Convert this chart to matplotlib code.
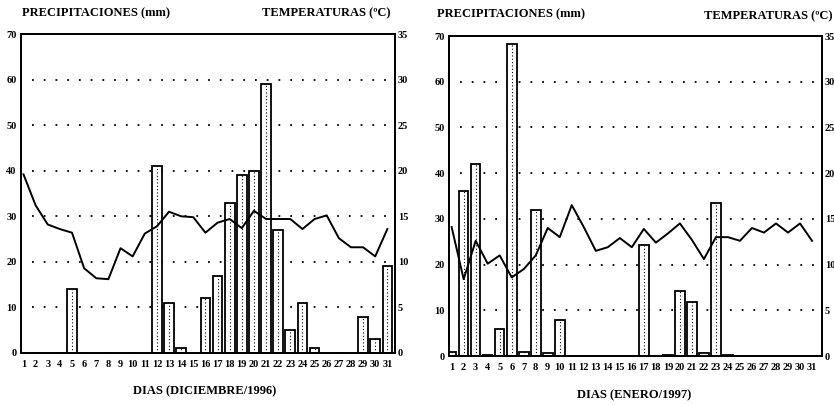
import matplotlib
matplotlib.use("Agg")
import matplotlib.pyplot as plt
import numpy as np

days = list(range(1, 32))

precip_dec = [0, 0, 0, 0, 14, 0, 0, 0, 0, 0, 0, 41, 11, 1, 0, 12, 17, 33, 39, 40,
              59, 27, 5, 11, 1, 0, 0, 0, 8, 3, 19]
temp_dec = [19.6, 16.2, 14.1, 13.6, 13.2, 9.3, 8.2, 8.1, 11.5, 10.6, 13.1, 13.9, 15.5,
            15.0, 14.9, 13.2, 14.3, 14.7, 13.7, 15.6, 14.7, 14.7, 14.7, 13.6, 14.7,
            15.1, 12.6, 11.6, 11.6, 10.6, 13.6]

precip_jan = [0.9, 36.2, 42.1, 0.3, 5.9, 68.2, 0.8, 32.0, 0.6, 7.8, 0, 0, 0, 0, 0, 0,
              24.3, 0, 0.2, 14.2, 11.8, 0.7, 33.5, 0.3, 0, 0, 0, 0, 0, 0, 0]
temp_jan = [14.1, 8.4, 12.6, 10.1, 11.0, 8.6, 9.5, 11.0, 14.0, 13.0, 16.5, 14.1, 11.5,
            11.9, 12.9, 11.9, 13.9, 12.4, 13.4, 14.5, 12.7, 10.6, 13.0, 13.0, 12.6,
            14.0, 13.5, 14.5, 13.5, 14.5, 12.6]

precip_ticks = [0, 10, 20, 30, 40, 50, 60, 70]
temp_ticks = [0, 5, 10, 15, 20, 25, 30, 35]
grid_levels = [10, 20, 30, 40, 50, 60]

title_left = "PRECIPITACIONES (mm)"
title_right = "TEMPERATURAS (ºC)"
xlabel_dec = "DIAS (DICIEMBRE/1996)"
xlabel_jan = "DIAS (ENERO/1997)"

SERIF = ["Liberation Serif", "DejaVu Serif"]
plt.rcParams["font.family"] = SERIF
plt.rcParams["font.weight"] = "bold"

fig = plt.figure(figsize=(8.34, 4.05), dpi=100)


def panel(rect, precip, temp, xlim):
    ax = fig.add_axes(rect)
    ax.set_xlim(*xlim)
    ax.set_ylim(0, 70)
    for g in grid_levels:
        ax.axhline(g, xmin=0.03, xmax=0.985, color="black", lw=1.3,
                   linestyle=(0, (1, 5.5)), zorder=1)
    ax.bar(days, precip, width=0.8, color="white", edgecolor="black",
           linewidth=1.3, zorder=2)
    ax.vlines(days, 0, precip, colors="black", linestyles=(0, (1, 2)),
              linewidth=0.8, zorder=3)
    ax.set_yticks(precip_ticks)
    ax.set_xticks(days)
    ax.set_xticklabels([str(d) for d in days], fontsize=7.5, fontweight="bold")
    ax.set_yticklabels([str(t) for t in precip_ticks], fontsize=7.5,
                       fontweight="bold")
    ax.tick_params(axis="x", length=0, pad=5)
    ax.tick_params(axis="y", length=0, pad=3)
    for s in ax.spines.values():
        s.set_linewidth(1.3)
    ax2 = ax.twinx()
    ax2.set_ylim(0, 35)
    ax2.plot(days, temp, color="black", lw=1.4, zorder=5)
    ax2.set_yticks(temp_ticks)
    ax2.set_yticklabels([str(t) for t in temp_ticks], fontsize=7.5,
                        fontweight="bold")
    ax2.tick_params(axis="y", length=0, pad=2)
    for s in ax2.spines.values():
        s.set_linewidth(1.3)
    return ax, ax2


panel([20.7 / 834, 1 - 353 / 405, (395 - 20.7) / 834, (353 - 34) / 405],
      precip_dec, temp_dec, (0.77, 31.63))
panel([449 / 834, 1 - 356 / 405, (822 - 449) / 834, (356 - 36) / 405],
      precip_jan, temp_jan, (0.78, 31.83))

tkw = dict(fontsize=9, fontweight="bold", va="center")
fig.text(22 / 834, 1 - 13 / 405, title_left, ha="left", **tkw)
fig.text(391 / 834, 1 - 13 / 405, title_right, ha="right", **tkw)
fig.text(437 / 834, 1 - 14 / 405, title_left, ha="left", **tkw)
fig.text(833 / 834, 1 - 16 / 405, title_right, ha="right", **tkw)
fig.text(205 / 834, 1 - 391 / 405, xlabel_dec, ha="center", **tkw)
fig.text(634 / 834, 1 - 395 / 405, xlabel_jan, ha="center", **tkw)

fig.savefig("out.png", dpi=100)
